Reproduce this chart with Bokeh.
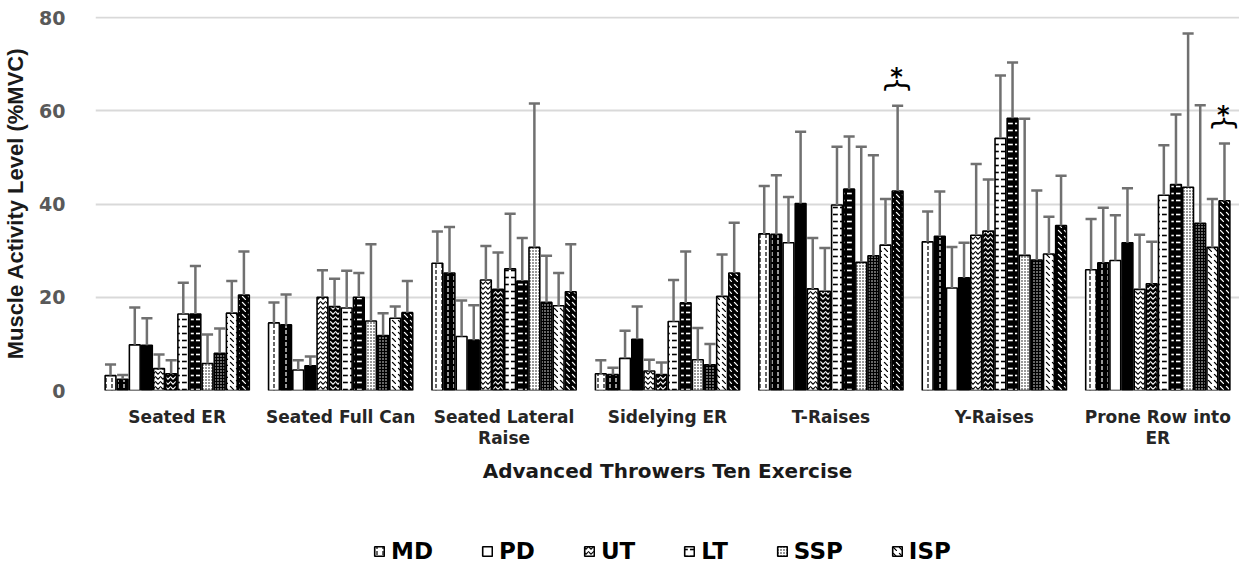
import math
from bokeh.plotting import figure
from bokeh.layouts import column
from bokeh.models import ColumnDataSource, FactorRange, Range1d, Legend, LegendItem, FixedTicker
from bokeh.transform import dodge
from bokeh.core.properties import value
from bokeh.embed import file_html
from bokeh.resources import INLINE

# ---------------- data ----------------
exercises = ["Seated ER", "Seated Full Can", "Seated Lateral\nRaise", "Sidelying ER",
             "T-Raises", "Y-Raises", "Prone Row into\nER"]
muscles = ["MD", "PD", "UT", "LT", "SSP", "ISP"]
y_ticks = [0, 20, 40, 60, 80]

# light bars (condition A) and dark bars (condition B): mean %MVC and SD
md_a = [3.2, 14.5, 27.3, 3.6, 33.6, 31.9, 25.9]
md_a_sd = [2.4, 4.4, 6.8, 2.9, 10.3, 6.5, 10.9]
md_b = [2.4, 14.1, 25.2, 3.4, 33.5, 33.1, 27.4]
md_b_sd = [0.9, 6.5, 9.9, 1.5, 12.7, 9.6, 11.8]
pd_a = [9.8, 4.4, 11.6, 6.9, 31.7, 22.0, 27.9]
pd_a_sd = [8.0, 2.1, 7.7, 5.9, 9.8, 8.8, 9.7]
pd_b = [9.7, 5.3, 10.8, 11.0, 40.1, 24.2, 31.7]
pd_b_sd = [5.8, 2.0, 7.5, 7.0, 15.4, 7.5, 11.7]
ut_a = [4.7, 20.0, 23.7, 4.2, 21.8, 33.3, 21.7]
ut_a_sd = [3.0, 5.8, 7.3, 2.4, 10.9, 15.3, 11.7]
ut_b = [3.6, 18.0, 21.7, 3.4, 21.3, 34.2, 22.9]
ut_b_sd = [2.9, 6.0, 7.9, 2.6, 9.3, 11.1, 9.0]
lt_a = [16.4, 17.7, 26.1, 14.8, 39.8, 54.1, 41.9]
lt_a_sd = [6.7, 8.0, 11.8, 8.9, 12.5, 13.5, 10.7]
lt_b = [16.4, 20.0, 23.5, 18.8, 43.2, 58.4, 44.2]
lt_b_sd = [10.3, 5.2, 9.2, 11.0, 11.3, 12.0, 15.0]
ssp_a = [5.8, 14.9, 30.7, 6.6, 27.5, 29.0, 43.6]
ssp_a_sd = [6.2, 16.5, 30.9, 6.8, 24.8, 29.3, 33.0]
ssp_b = [8.0, 11.8, 18.9, 5.5, 28.9, 28.0, 35.9]
ssp_b_sd = [5.3, 4.8, 10.0, 4.5, 21.6, 14.9, 25.3]
isp_a = [16.6, 15.5, 18.2, 20.2, 31.2, 29.3, 30.7]
isp_a_sd = [6.9, 2.5, 7.0, 9.0, 9.9, 8.0, 10.4]
isp_b = [20.5, 16.7, 21.2, 25.2, 42.8, 35.4, 40.7]
isp_b_sd = [9.3, 6.8, 10.2, 10.8, 18.3, 10.7, 12.3]

# exercises with a significant ISP difference (asterisk)
significant = ["T-Raises", "Prone Row into\nER"]

# ---------------- main figure ----------------
p = figure(x_range=FactorRange(*exercises, range_padding=0), y_range=Range1d(0, 80.25),
           width=1239, height=537, output_backend="svg", toolbar_location=None,
           min_border_left=95, min_border_right=0, min_border_top=16, min_border_bottom=147)
p.outline_line_color = None
p.background_fill_color = "white"
p.border_fill_color = "white"

p.xgrid.grid_line_color = None
p.ygrid.grid_line_color = "#d9d9d9"
p.ygrid.grid_line_width = 2
p.yaxis.ticker = FixedTicker(ticks=y_ticks)

for ax in (p.xaxis[0], p.yaxis[0]):
    ax.axis_line_color = None
    ax.major_tick_line_color = None
    ax.minor_tick_line_color = None

p.yaxis.major_label_text_font = "DejaVu Sans"
p.yaxis.major_label_text_font_size = "19px"
p.yaxis.major_label_text_font_style = "bold"
p.yaxis.major_label_text_color = "#595959"
p.yaxis.major_label_standoff = 24
p.yaxis.axis_label = "Muscle Activity Level (%MVC)"
p.yaxis.axis_label_text_font = "Liberation Sans"
p.yaxis.axis_label_text_font_size = "22px"
p.yaxis.axis_label_text_font_style = "bold"
p.yaxis.axis_label_text_color = "#1a1a1a"
p.yaxis.axis_label_standoff = 8

p.xaxis.major_label_text_font = "DejaVu Sans"
p.xaxis.major_label_text_font_size = "17px"
p.xaxis.major_label_text_font_style = "bold"
p.xaxis.major_label_text_color = "#262626"
p.xaxis.major_label_text_line_height = 1.05
p.xaxis.major_label_standoff = 10
p.xaxis.axis_label = "Advanced Throwers Ten Exercise"
p.xaxis.axis_label_text_font = "DejaVu Sans"
p.xaxis.axis_label_text_font_size = "20px"
p.xaxis.axis_label_text_font_style = "bold"
p.xaxis.axis_label_text_color = "#1a1a1a"
p.xaxis.axis_label_standoff = 8

series = [
    ("MD", md_a, md_a_sd, md_b, md_b_sd, ":", 6, 1.2),
    ("PD", pd_a, pd_a_sd, pd_b, pd_b_sd, None, 6, 1),
    ("UT", ut_a, ut_a_sd, ut_b, ut_b_sd, "v", 5, 1.1),
    ("LT", lt_a, lt_a_sd, lt_b, lt_b_sd, '"', 7, 1.6),
    ("SSP", ssp_a, ssp_a_sd, ssp_b, ssp_b_sd, ".", 3, 1),
    ("ISP", isp_a, isp_a_sd, isp_b, isp_b_sd, "`", 6, 1.2),
]

pitch = 0.0742
bar_w = 0.066
cap_half = 0.034
err_color = "#707070"
n_bars = 2 * len(series)


def bar_style(fill, hcol, pat, hscale, hweight):
    kw = dict(fill_color=fill, line_color="black", line_width=1.6)
    if pat is not None:
        kw.update(hatch_pattern=value(pat), hatch_color=hcol,
                  hatch_scale=hscale, hatch_weight=hweight)
    return kw


for i, (name, a, a_sd, b, b_sd, pat, hscale, hweight) in enumerate(series):
    for k, (vals, sds, fill, hcol) in enumerate([(a, a_sd, "white", "black"),
                                                 (b, b_sd, "black", "white")]):
        j = 2 * i + k
        off = (j - (n_bars - 1) / 2) * pitch
        src = ColumnDataSource(dict(x=exercises, top=vals,
                                    err=[v + s for v, s in zip(vals, sds)]))
        p.vbar(x=dodge("x", off, range=p.x_range), top="top", width=bar_w,
               source=src, **bar_style(fill, hcol, pat, hscale, hweight))
        p.segment(x0=dodge("x", off, range=p.x_range), y0="top",
                  x1=dodge("x", off, range=p.x_range), y1="err",
                  source=src, line_color=err_color, line_width=2.5)
        p.segment(x0=dodge("x", off - cap_half, range=p.x_range), y0="err",
                  x1=dodge("x", off + cap_half, range=p.x_range), y1="err",
                  source=src, line_color=err_color, line_width=2.5)

# significance markers over the ISP pair
sig_y = []
for e in significant:
    idx = exercises.index(e)
    sig_y.append(isp_b[idx] + isp_b_sd[idx] + 4.4)
sig_src = ColumnDataSource(dict(x=significant, y=sig_y))
sig_off = (n_bars / 2 - 1) * pitch + 0.03
p.text(x=dodge("x", sig_off, range=p.x_range), y="y", text=value("}"), source=sig_src,
       angle=math.pi / 2, text_align="center", text_baseline="middle",
       text_font=value("DejaVu Sans"), text_font_size="28px", text_color="black")
p.text(x=dodge("x", sig_off, range=p.x_range), y="y", text=value("*"), source=sig_src,
       text_align="center", text_baseline="alphabetic", y_offset=-8,
       text_font=value("DejaVu Sans"), text_font_size="24px", text_font_style="bold",
       text_color="black")

# ---------------- legend strip ----------------
lf = figure(width=1239, height=28, x_range=Range1d(0, 1), y_range=Range1d(0, 1),
            output_backend="svg", toolbar_location=None, x_axis_type=None, y_axis_type=None,
            min_border_left=95, min_border_right=0, min_border_top=0, min_border_bottom=0)
lf.outline_line_color = None
lf.grid.grid_line_color = None
lf.background_fill_color = "white"
lf.border_fill_color = "white"

legend_items = []
for name, a, a_sd, b, b_sd, pat, hscale, hweight in series:
    # legend proxy: a tiny bar styled like the light bars, hidden under the opaque legend box
    proxy = ColumnDataSource(dict(x=[0.5], top=[0.6], bottom=[0.4]))
    r = lf.vbar(x="x", top="top", bottom="bottom", width=0.004, source=proxy,
                **bar_style("white", "black", pat, hscale, hweight))
    legend_items.append(LegendItem(label=name, renderers=[r]))

legend = Legend(items=legend_items, orientation="horizontal", location=(278, 1),
                glyph_width=12, glyph_height=12, label_standoff=6, spacing=48,
                padding=0, margin=0, border_line_color=None,
                background_fill_color="white", background_fill_alpha=1.0,
                label_text_font="DejaVu Sans", label_text_font_size="23px",
                label_text_font_style="bold", label_text_color="black")
lf.add_layout(legend)

layout = column(p, lf, spacing=0)
open("out.html", "w").write(file_html(layout, INLINE))
